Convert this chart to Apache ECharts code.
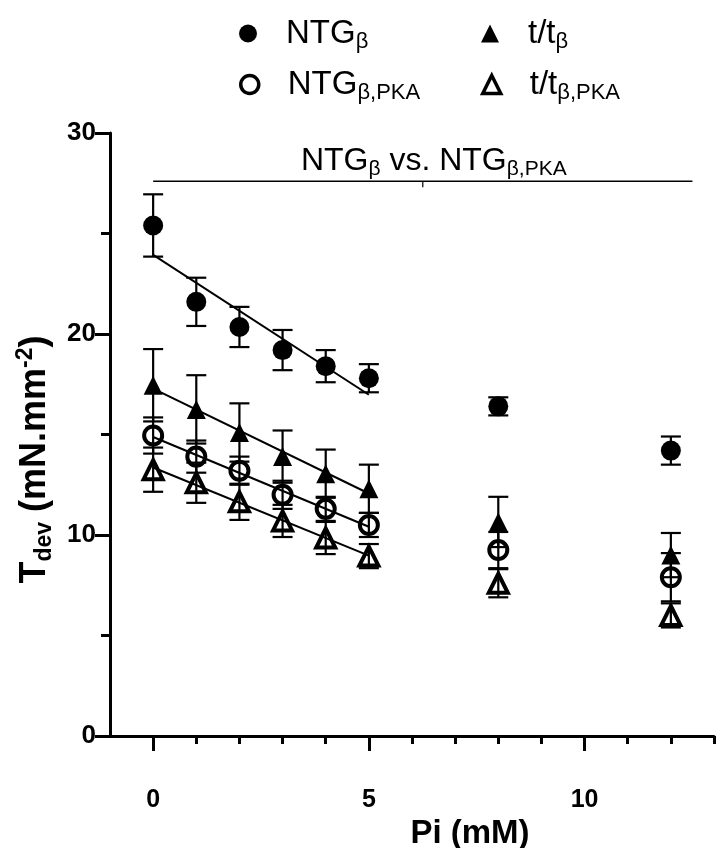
<!DOCTYPE html>
<html>
<head>
<meta charset="utf-8">
<script src="https://cdn.jsdelivr.net/npm/echarts@6/dist/echarts.min.js"></script>
<style>html,body{margin:0;padding:0;background:#fff;}#c{width:720px;height:848px;}</style>
</head>
<body>
<div id="c"></div>
<script>
// ---- data ----
const xVals = [0, 1, 2, 3, 4, 5, 8, 12];
const ntgMean = [25.4, 21.6, 20.35, 19.2, 18.4, 17.8, 16.4, 14.2];
const ntgSem = [1.55, 1.2, 1.0, 1.0, 0.8, 0.7, 0.45, 0.7];
const ttMean = [17.45, 16.25, 15.1, 13.9, 13.05, 12.3, 10.65, 9.0];
const ttSem = [1.8, 1.7, 1.45, 1.3, 1.2, 1.2, 1.25, 1.1];
const ntgPkaMean = [14.95, 13.9, 13.2, 12.0, 11.3, 10.5, 9.25, 7.9];
const ntgPkaSem = [0.9, 0.8, 0.7, 0.7, 0.6, 0.6, 0.9, 1.2];
const ttPkaMean = [13.25, 12.6, 11.65, 10.7, 9.85, 8.95, 7.6, 6.0];
const ttPkaSem = [1.1, 1.0, 0.9, 0.8, 0.8, 0.6, 0.7, 0.6];
const fitMaxX = 5;
const bracketX = [0, 12.5];
const bracketY = 27.6;
const xLabelTicks = [0, 5, 10];
const xMinorTicks = [1, 2, 3, 4, 6, 7, 8, 9, 11, 12, 13];

const FONT = 'Liberation Sans';

function pts(m) { return xVals.map((x, i) => [x, m[i]]); }
function errPts(m, s) { return xVals.map((x, i) => [x, m[i], s[i]]); }
function fit(m) {
  const xs = [], ys = [];
  xVals.forEach((x, i) => { if (x <= fitMaxX) { xs.push(x); ys.push(m[i]); } });
  const n = xs.length;
  const mx = xs.reduce((a, b) => a + b, 0) / n;
  const my = ys.reduce((a, b) => a + b, 0) / n;
  let sxy = 0, sxx = 0;
  for (let i = 0; i < n; i++) { sxy += (xs[i] - mx) * (ys[i] - my); sxx += (xs[i] - mx) ** 2; }
  const b = sxy / sxx, a = my - b * mx;
  return [[xs[0], a + b * xs[0]], [xs[n - 1], a + b * xs[n - 1]]];
}

function errRender(params, api) {
  const x = api.value(0), m = api.value(1), s = api.value(2);
  const t = api.coord([x, m + s]);
  const b = api.coord([x, m - s]);
  const hw = 10;
  const st = { stroke: '#000', lineWidth: 2.2 };
  return {
    type: 'group',
    children: [
      { type: 'line', shape: { x1: t[0], y1: t[1], x2: b[0], y2: b[1] }, style: st },
      { type: 'line', shape: { x1: t[0] - hw, y1: t[1], x2: t[0] + hw, y2: t[1] }, style: st },
      { type: 'line', shape: { x1: b[0] - hw, y1: b[1], x2: b[0] + hw, y2: b[1] }, style: st }
    ]
  };
}

function errSeries(m, s) {
  return {
    type: 'custom', renderItem: errRender, data: errPts(m, s), z: 2,
    encode: { x: 0, y: 1 }, silent: true
  };
}
function fitSeries(m) {
  return {
    type: 'line', data: fit(m), symbol: 'none', z: 1, silent: true,
    lineStyle: { color: '#000', width: 2 }
  };
}

const names = ['NTGβ', 't/tβ', 'NTGβ,PKA', 't/tβ,PKA'];
const legendLabels = {
  'NTGβ': '{m|NTG}{s|β}',
  't/tβ': '{m|t/t}{s|β}',
  'NTGβ,PKA': '{m|NTG}{s|β,PKA}',
  't/tβ,PKA': '{m|t/t}{s|β,PKA}'
};
const legendRich = {
  m: { fontFamily: FONT, fontSize: 33, color: '#000', lineHeight: 38 },
  s: { fontFamily: FONT, fontSize: 22, color: '#000', lineHeight: 20, verticalAlign: 'bottom' }
};
function legend(name, left, top, open) {
  const l = {
    data: [name], left: left, top: top, itemWidth: 18, itemHeight: 18,
    selectedMode: false,
    formatter: n => legendLabels[n],
    textStyle: { rich: legendRich, padding: [0, 0, 0, 24] }
  };
  if (open) l.itemStyle = { borderWidth: 3.5, borderColor: '#000' };
  return l;
}

const openFill = 'rgba(255,255,255,0)';

const option = {
  animation: false,
  backgroundColor: '#fff',
  legend: [
    legend(names[0], 234, 12, false),
    legend(names[1], 476, 12, false),
    legend(names[2], 234, 63, true),
    legend(names[3], 476, 63, true)
  ],
  grid: { left: 110, right: 6, top: 133, bottom: 112, containLabel: false, outerBoundsMode: 'none' },
  xAxis: [{
    type: 'value', min: -1, max: 13, position: 'bottom',
    axisLine: { show: true, onZero: false, lineStyle: { color: '#000', width: 3 } },
    axisTick: { show: true, customValues: xMinorTicks, length: 8, lineStyle: { color: '#000', width: 3 } },
    axisLabel: { customValues: xLabelTicks, fontFamily: FONT, fontWeight: 'bold', fontSize: 25, color: '#000', margin: 52 },
    splitLine: { show: false },
    name: 'Pi (mM)', nameLocation: 'middle', nameGap: 66,
    nameTextStyle: { fontFamily: FONT, fontWeight: 'bold', fontSize: 33, color: '#000', padding: [0, 0, 0, 116] }
  }, {
    type: 'value', min: -1, max: 13, position: 'bottom',
    axisLine: { show: false },
    axisTick: { show: true, customValues: xLabelTicks, length: 15, lineStyle: { color: '#000', width: 3 } },
    axisLabel: { show: false },
    splitLine: { show: false }
  }],
  yAxis: {
    type: 'value', min: 0, max: 30, interval: 10,
    axisLine: { show: true, onZero: false, lineStyle: { color: '#000', width: 3 } },
    axisTick: { show: true, length: 15, lineStyle: { color: '#000', width: 3 } },
    minorTick: { show: true, splitNumber: 2, length: 9, lineStyle: { color: '#000', width: 3 } },
    axisLabel: { fontFamily: FONT, fontWeight: 'bold', fontSize: 26, color: '#000', margin: 14 },
    splitLine: { show: false },
    name: '{m|T}{s|dev}{m| (mN.mm}{p|-2}{m|)}', nameLocation: 'middle', nameGap: 52, nameRotate: 90,
    nameTextStyle: {
      padding: [0, 50, 0, 0],
      rich: {
        m: { fontFamily: FONT, fontWeight: 'bold', fontSize: 36, color: '#000', lineHeight: 42 },
        s: { fontFamily: FONT, fontWeight: 'bold', fontSize: 23, color: '#000', lineHeight: 20, verticalAlign: 'bottom' },
        p: { fontFamily: FONT, fontWeight: 'bold', fontSize: 23, color: '#000', lineHeight: 20, verticalAlign: 'top' }
      }
    }
  },
  series: [
    fitSeries(ntgMean), fitSeries(ttMean), fitSeries(ntgPkaMean), fitSeries(ttPkaMean),
    errSeries(ntgMean, ntgSem), errSeries(ttMean, ttSem), errSeries(ntgPkaMean, ntgPkaSem), errSeries(ttPkaMean, ttPkaSem),
    {
      name: names[0], type: 'scatter', data: pts(ntgMean), symbol: 'circle', symbolSize: 20, z: 5,
      itemStyle: { color: '#000', opacity: 1 }
    },
    {
      name: names[1], type: 'scatter', data: pts(ttMean), symbol: 'triangle', symbolSize: 19, z: 5,
      itemStyle: { color: '#000', opacity: 1 }
    },
    {
      name: names[2], type: 'scatter', data: pts(ntgPkaMean), symbol: 'circle', symbolSize: 18, z: 5,
      itemStyle: { color: openFill, borderColor: '#000', borderWidth: 4, opacity: 1 }
    },
    {
      name: names[3], type: 'scatter', data: pts(ttPkaMean), symbol: 'triangle', symbolSize: 19, z: 5,
      itemStyle: { color: openFill, borderColor: '#000', borderWidth: 4, opacity: 1 }
    },
    {
      type: 'custom', silent: true, z: 3,
      data: [[bracketX[0], bracketX[1], bracketY]],
      encode: { x: [0, 1], y: 2 },
      renderItem: function (params, api) {
        const a = api.coord([api.value(0), api.value(2)]);
        const b = api.coord([api.value(1), api.value(2)]);
        const mx = (a[0] + b[0]) / 2;
        return {
          type: 'group',
          children: [
            { type: 'line', shape: { x1: a[0], y1: a[1], x2: b[0], y2: b[1] }, style: { stroke: '#000', lineWidth: 1.5 } },
            { type: 'line', shape: { x1: mx, y1: a[1], x2: mx, y2: a[1] + 6 }, style: { stroke: '#000', lineWidth: 1.2 } },
            {
              type: 'text', x: mx + 11, y: a[1] - 2,
              style: {
                text: '{m|NTG}{s|β}{m| vs. NTG}{s|β,PKA}',
                align: 'center', verticalAlign: 'bottom',
                rich: {
                  m: { fontFamily: FONT, fontSize: 32, fill: '#000', lineHeight: 36 },
                  s: { fontFamily: FONT, fontSize: 21, fill: '#000', lineHeight: 18, verticalAlign: 'bottom' }
                }
              }
            }
          ]
        };
      }
    }
  ]
};

const chart = echarts.init(document.getElementById('c'), null, { renderer: 'canvas' });
chart.setOption(option);
</script>
</body>
</html>
